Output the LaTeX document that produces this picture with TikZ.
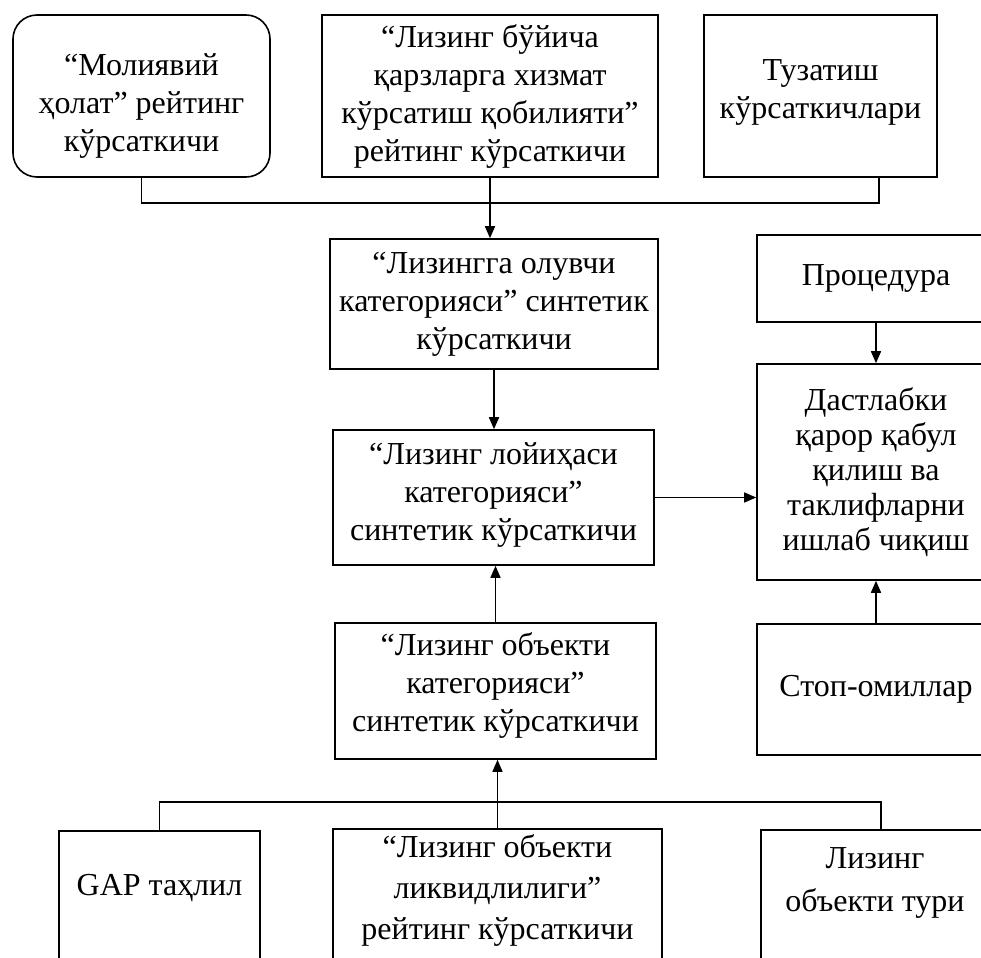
\documentclass[tikz,border=0pt]{standalone}
\usepackage{fontspec}
\setmainfont{Liberation Serif}
\usetikzlibrary{arrows.meta}
\begin{document}
\begin{tikzpicture}[x=0.5pt, y=-0.5pt, line width=0.8pt,
		box/.style = {draw, rectangle, align=center, inner sep=2pt, font=\fontsize{16}{19}\selectfont},
		lift/.style = {text depth=#1},
		arr/.style = {-{Triangle[length=6pt, width=5pt]}}]
		\useasboundingbox (0,0) rectangle (981,958);
		\node[box, rounded corners=12pt, text height=59pt, minimum width=128.5pt, minimum height=81pt] (mol) at (141.5,96) {“Молиявий\\ ҳолат” рейтинг\\ кўрсаткичи};
		\node[box, minimum width=168pt, minimum height=81pt] (lb) at (490,96) {“Лизинг бўйича\\ қарзларга хизмат\\ кўрсатиш қобилияти”\\ рейтинг кўрсаткичи};
		\node[box, lift=7pt, minimum width=116.5pt, minimum height=81pt] (tuz) at (820.5,96) {Тузатиш\\ кўрсаткичлари};
		\node[box, minimum width=164pt, minimum height=65pt] (cat1) at (494,304) {“Лизингга олувчи\\ категорияси” синтетик\\ кўрсаткичи};
		\node[box, lift=6pt, minimum width=160.5pt, minimum height=67.5pt] (cat2) at (493.5,497.5) {“Лизинг лойиҳаси\\ категорияси”\\ синтетик кўрсаткичи};
		\node[box, lift=9pt, minimum width=160.5pt, minimum height=68pt] (cat3) at (495.5,691) {“Лизинг объекти\\ категорияси”\\ синтетик кўрсаткичи};
		\node[box, minimum width=119pt, minimum height=43.5pt] (proc) at (876,278.5) {Процедура};
		\node[box, font=\fontsize{16}{17.5}\selectfont, minimum width=119pt, minimum height=108pt] (dec) at (876,472) {Дастлабки\\ қарор қабул\\ қилиш ва\\ таклифларни\\ ишлаб чиқиш};
		\node[box, minimum width=119pt, minimum height=65.5pt] (stop) at (876,689.5) {Стоп-омиллар};
		\node[box, lift=36pt, minimum width=100.5pt, minimum height=89.5pt] (gap) at (159.5,920.5) {GAP таҳлил};
		\node[box, font=\fontsize{16}{20.5}\selectfont, lift=32pt, minimum width=164.5pt, minimum height=90.5pt] (liq) at (497.5,919.5) {“Лизинг объекти\\ ликвидлилиги”\\ рейтинг кўрсаткичи};
		\node[box, font=\fontsize{16}{21.5}\selectfont, lift=40pt, minimum width=114pt, minimum height=90pt] (turi) at (875,920) {Лизинг\\ объекти тури};
		% junctions
		\coordinate (topjoin) at (141.5,203);
		\coordinate (tuzfoot) at (879,177);
		\coordinate (botjoin) at (159.5,802);
		\coordinate (turihead) at (881,830);
		\draw (mol.south) |- (topjoin) -| (tuzfoot);
		\draw (gap.north) |- (botjoin) -| (turihead);
		\path[arr]
			(lb.south) edge (lb.south |- cat1.north)
			(cat1.south) edge (cat1.south |- cat2.north)
			(cat3.north) edge (cat3.north |- cat2.south)
			(liq.north) edge (liq.north |- cat3.south)
			(cat2.east) edge (cat2.east -| dec.west)
			(proc.south) edge (dec.north)
			(stop.north) edge (dec.south);
	\end{tikzpicture}
\end{document}
